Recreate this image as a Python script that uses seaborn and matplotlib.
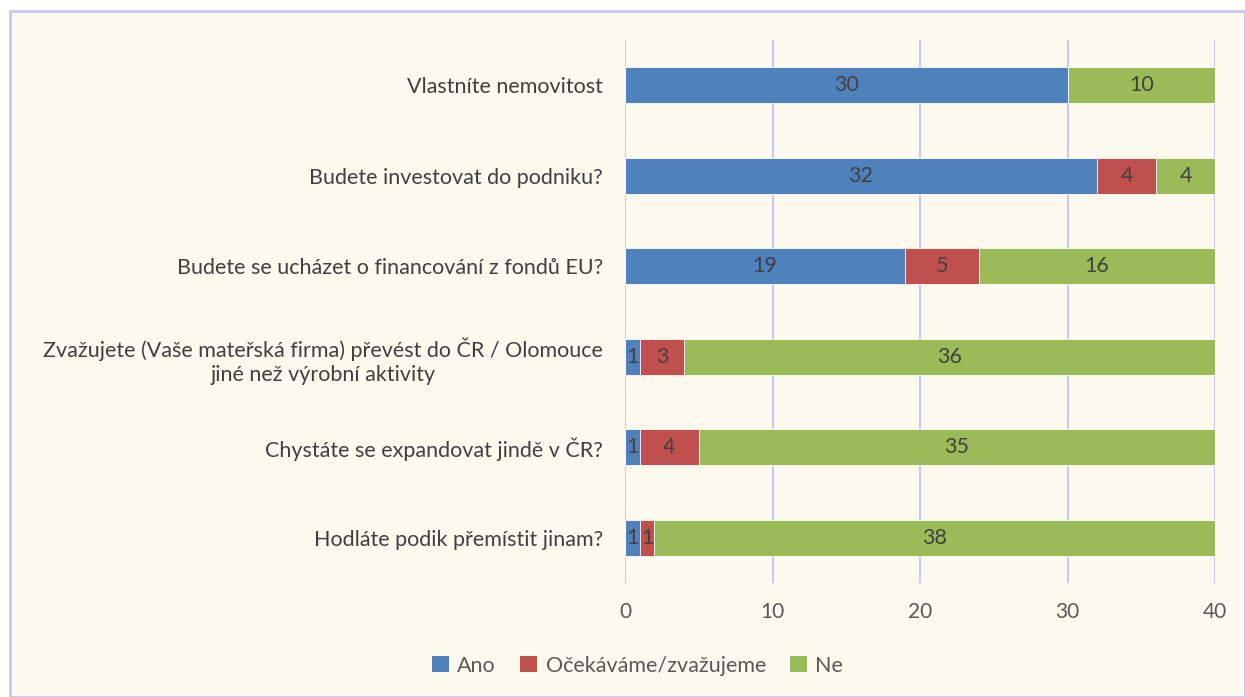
import numpy as np
import pandas as pd
import seaborn as sns
import matplotlib.pyplot as plt
from matplotlib.patches import Rectangle, Patch

questions = [
    "Vlastníte nemovitost",
    "Budete investovat do podniku?",
    "Budete se ucházet o financování z fondů EU?",
    "Zvažujete (Vaše mateřská firma) převést do ČR / Olomouce\njiné než výrobní aktivity",
    "Chystáte se expandovat jindě v ČR?",
    "Hodláte podik přemístit jinam?",
]
series_names = ["Ano", "Očekáváme/zvažujeme", "Ne"]
ano = [30, 32, 19, 1, 1, 1]
ocekavame = [0, 4, 5, 3, 4, 1]
ne = [10, 4, 16, 36, 35, 38]
x_ticks = [0, 10, 20, 30, 40]

colors = ["#4F81BD", "#C0504D", "#9BBB59"]
bg = "#FEF9EF"

sns.set_theme(style="white")
plt.rcParams["font.family"] = ["Lato", "DejaVu Sans"]

df = pd.DataFrame({"q": questions, "Ano": ano, "Oc": ocekavame, "Ne": ne})
df["c1"] = df["Ano"]
df["c2"] = df["Ano"] + df["Oc"]
df["c3"] = df["c2"] + df["Ne"]

fig = plt.figure(figsize=(12.45, 6.97), dpi=100)
fig.patch.set_facecolor("white")
fig.patches.append(Rectangle((10 / 1245, 0), 1 - 10 / 1245, 1 - 11 / 697,
                             transform=fig.transFigure, facecolor=bg,
                             edgecolor="#C8C8F4", linewidth=2, zorder=-10))
ax = fig.add_axes([0.502, 0.1635, 0.474, 0.779])
ax.set_facecolor(bg)
ax.patch.set_alpha(0)

# stacked bars: draw cumulative totals from back to front
for col, c in zip(["c3", "c2", "c1"], colors[::-1]):
    sns.barplot(data=df, x=col, y="q", orient="h", color=c, width=0.4,
                saturation=1, edgecolor="white", linewidth=0.6, ax=ax, zorder=3)

for i, row in df.iterrows():
    starts = [0, row["c1"], row["c2"]]
    for val, s in zip([row["Ano"], row["Oc"], row["Ne"]], starts):
        if val > 0:
            ax.text(s + val / 2, i, str(val), ha="center", va="center",
                    fontsize=15.5, color="#404040", zorder=5)

ax.set_xlim(0, 40)
ax.set_ylim(5.5, -0.5)
ax.set_xticks(x_ticks)
ax.set_xticklabels([str(t) for t in x_ticks], fontsize=15, color="#595959")
ax.tick_params(axis="x", length=0, pad=14)
ax.tick_params(axis="y", length=0, pad=16)
for lab in ax.get_yticklabels():
    lab.set_fontsize(15.5)
    lab.set_color("#404040")
    lab.set_multialignment("center")
    lab.set_linespacing(1.3)
ax.set_xlabel("")
ax.set_ylabel("")
for sp in ax.spines.values():
    sp.set_visible(False)
ax.grid(axis="x", color="#C8C8F6", linewidth=1.5, zorder=0)
ax.set_axisbelow(True)

handles = [Patch(facecolor=c, edgecolor="none") for c in colors]
fig.legend(handles, series_names, loc="center", bbox_to_anchor=(0.512, 0.045),
           ncol=3, frameon=False, fontsize=15.5, handlelength=0.8,
           handleheight=0.8, handletextpad=0.4, columnspacing=1.1,
           labelcolor="#595959")

fig.savefig("out.png", dpi=100, facecolor=fig.get_facecolor())
